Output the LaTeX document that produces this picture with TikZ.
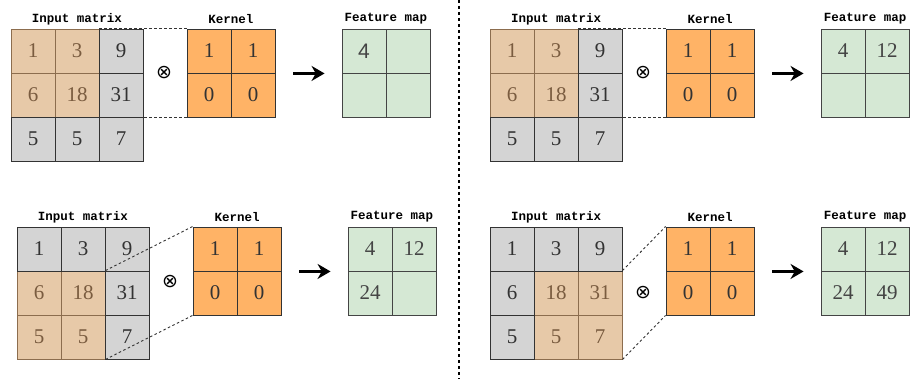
\documentclass[tikz,border=0pt]{standalone}
\usepackage{fontspec}
\setmainfont{Liberation Serif}
\newfontfamily\titlefont{Liberation Mono}
\newfontfamily\sansdigit{Liberation Sans}
\newfontfamily\symbolfont{DejaVu Sans}
\usetikzlibrary{arrows.meta}

\definecolor{grayfill}{HTML}{D4D4D4}
\definecolor{grayline}{HTML}{333333}
\definecolor{beigefill}{HTML}{E7C9A8}
\definecolor{beigeline}{HTML}{8C6D4E}
\definecolor{beigetext}{HTML}{7A5C40}
\definecolor{kernfill}{HTML}{FFB366}
\definecolor{greenfill}{HTML}{D5E8D4}
\definecolor{greenline}{HTML}{444444}
\definecolor{numtext}{HTML}{333333}

\tikzset{
  cellbase/.style={minimum size=44pt, inner sep=0pt, line width=0.9pt,
    font=\fontsize{21}{21}\selectfont, text=numtext},
  gcell/.style={cellbase, draw=grayline, fill=grayfill},
  hcell/.style={cellbase, draw=beigeline, fill=beigefill, text=beigetext},
  kcell/.style={cellbase, draw=grayline, fill=kernfill},
  fcell/.style={cellbase, draw=greenline, fill=greenfill, text=greenline},
  title/.style={font=\titlefont\bfseries\fontsize{12.5}{12.5}\selectfont, inner sep=0pt},
  opsign/.style={font=\symbolfont\fontsize{19}{19}\selectfont, inner sep=0pt},
  guide/.style={draw=grayline, line width=0.9pt, dash pattern=on 2.5pt off 2.5pt},
  arr/.style={-{Stealth[length=13pt,width=15pt]}, line width=3pt,
    shorten <=18pt, shorten >=17pt},
  divider/.style={draw=black, line width=1.2pt, dash pattern=on 3pt off 3pt}
}

% One convolution step: input grid, kernel, feature map.
% #1 name, #2 origin, #3 highlighted cells r/c/v, #4 other input cells r/c/v,
% #5 top-right highlighted cell, #6 bottom-right highlighted cell,
% #7 feature map cells r/c/v, #8 height of the operator sign
\newcommand\convpanel[8]{%
  \begin{scope}[shift={#2}]
    \node[title] (#1-ti) at (66,-10) {Input matrix};
    \node[title] (#1-tk) at (220,-10) {Kernel};
    \node[title] (#1-tf) at (375,-10) {Feature map};
    \foreach \r/\c/\v in {#3}
      \node[hcell] (#1-i-\r-\c) at ({44*\c-22},{44*\r-22}) {\v};
    \foreach \r/\c/\v in {#4}
      \node[gcell] (#1-i-\r-\c) at ({44*\c-22},{44*\r-22}) {\v};
    \foreach \r/\c/\v in {1/1/1,1/2/1,2/1/0,2/2/0}
      \node[kcell] (#1-k-\r-\c) at ({176+44*\c-22},{44*\r-22}) {\v};
    \foreach \r/\c/\v in {#7}
      \node[fcell] (#1-f-\r-\c) at ({331+44*\c-22},{44*\r-22}) {\v};
    \draw[guide] (#1-i-#5.north east) -- (#1-k-1-1.north west);
    \draw[guide] (#1-i-#6.south east) -- (#1-k-2-1.south west);
    \node[opsign] (#1-op) at (153,#8) {⊗};
    \draw[arr] (#1-k-1-2.south east) -- (#1-f-1-1.south west);
  \end{scope}}

\begin{document}
\begin{tikzpicture}[x=1pt, y=-1pt]
  \useasboundingbox (0,0) rectangle (912,379);

  \convpanel{pa}{(11,29)}
    {1/1/1,1/2/3,2/1/6,2/2/18}
    {1/3/9,2/3/31,3/1/5,3/2/5,3/3/7}
    {1-2}{2-2}
    {1/1/{\sansdigit 4},1/2/{},2/1/{},2/2/{}}
    {44}

  \convpanel{pb}{(490,29)}
    {1/1/1,1/2/3,2/1/6,2/2/18}
    {1/3/9,2/3/31,3/1/5,3/2/5,3/3/7}
    {1-2}{2-2}
    {1/1/4,1/2/12,2/1/{},2/2/{}}
    {44}

  \convpanel{pc}{(17,227)}
    {2/1/6,2/2/18,3/1/5,3/2/5}
    {1/1/1,1/2/3,1/3/9,2/3/31,3/3/7}
    {2-2}{3-2}
    {1/1/4,1/2/12,2/1/24,2/2/{}}
    {55}

  \convpanel{pd}{(490,227)}
    {2/2/18,2/3/31,3/2/5,3/3/7}
    {1/1/1,1/2/3,1/3/9,2/1/6,3/1/5}
    {2-3}{3-3}
    {1/1/4,1/2/12,2/1/24,2/2/49}
    {66}

  % separator between the left and right columns
  \coordinate (sep-top) at (459,0);
  \coordinate (sep-bot) at (459,379);
  \draw[divider] (sep-top) -- (sep-bot);
\end{tikzpicture}
\end{document}
